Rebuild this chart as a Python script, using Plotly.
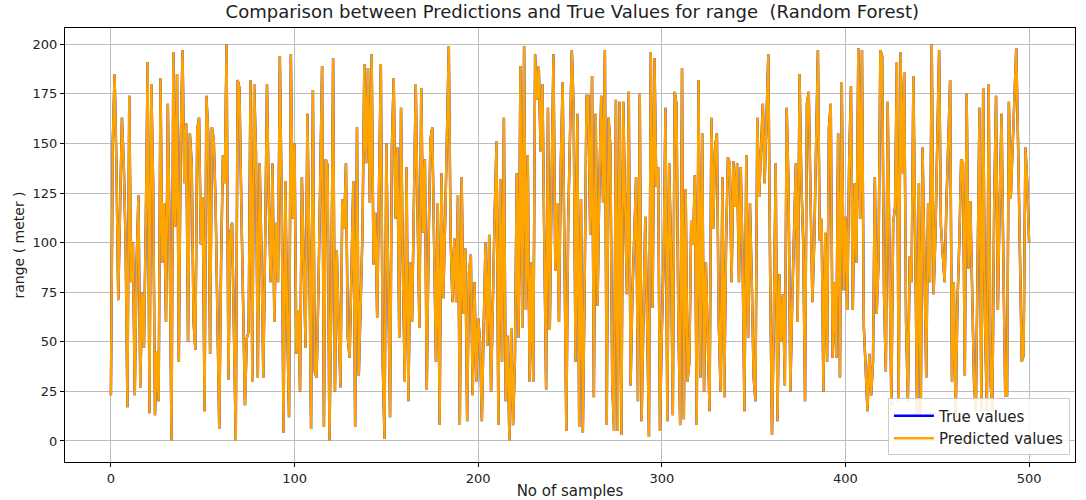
import plotly.graph_objects as go

# values, samples 0..500 (in ~46-sample blocks)
block_01 = [23, 150, 185, 140, 71, 120, 163, 140, 100, 17, 174, 80, 100, 23, 90, 124, 27, 75, 47, 110,
            191, 14, 180, 130, 13, 45, 20, 183, 90, 120, 60, 170, 100, 0, 196, 108, 185, 40, 150, 197,
            130, 160, 50, 155, 140, 60]
block_02 = [46, 157, 163, 99, 123, 15, 174, 155, 44, 158, 152, 120, 68, 6, 90, 144, 130, 200, 31, 105,
            110, 60, 0, 182, 178, 120, 64, 18, 52, 55, 182, 30, 180, 145, 32, 140, 95, 32, 100, 180,
            120, 80, 140, 60, 110, 80]
block_03 = [194, 120, 4, 131, 60, 12, 195, 112, 150, 44, 66, 25, 133, 90, 47, 165, 100, 6, 177, 35,
            32, 76, 140, 189, 7, 142, 139, 0, 70, 193, 25, 96, 60, 27, 122, 107, 140, 52, 42, 90,
            131, 7, 158, 33, 70, 105]
block_04 = [190, 140, 188, 120, 195, 89, 115, 62, 128, 190, 40, 1, 150, 84, 12, 148, 183, 112, 148, 52,
            168, 87, 30, 138, 20, 90, 60, 120, 180, 115, 57, 178, 105, 142, 26, 100, 152, 158, 90, 40,
            120, 8, 135, 72, 110, 160]
block_05 = [199, 102, 70, 102, 70, 124, 8, 133, 64, 97, 10, 85, 94, 23, 80, 30, 62, 50, 10, 58,
            100, 48, 104, 25, 74, 115, 151, 8, 132, 40, 163, 20, 53, 0, 57, 8, 40, 135, 52, 189,
            57, 199, 66, 144, 30, 90]
block_06 = [30, 195, 172, 189, 146, 180, 100, 26, 168, 56, 130, 195, 86, 120, 60, 140, 181, 90, 5, 110,
            150, 197, 167, 40, 165, 7, 122, 4, 80, 174, 174, 104, 184, 22, 165, 68, 130, 174, 120, 197,
            8, 163, 148, 29, 5, 172]
block_07 = [5, 171, 3, 171, 120, 74, 176, 28, 74, 103, 133, 20, 175, 10, 71, 113, 60, 2, 196, 67,
            193, 128, 138, 5, 55, 93, 168, 10, 140, 97, 13, 176, 170, 60, 8, 188, 11, 127, 30, 40,
            111, 99, 134, 8, 182, 32]
block_08 = [155, 25, 90, 48, 15, 163, 107, 148, 155, 60, 25, 133, 22, 100, 143, 140, 80, 141, 118, 140,
            80, 138, 90, 15, 144, 52, 120, 80, 32, 20, 163, 123, 150, 170, 130, 160, 195, 84, 3, 60,
            140, 10, 84, 50, 74, 28]
block_09 = [168, 129, 25, 70, 100, 140, 60, 185, 130, 100, 20, 170, 176, 120, 70, 100, 150, 197, 101, 112,
            25, 105, 40, 158, 170, 42, 80, 42, 155, 32, 181, 76, 113, 66, 140, 179, 66, 130, 90, 198,
            112, 197, 58, 40, 15, 44]
block_10 = [23, 40, 133, 64, 90, 197, 194, 74, 35, 171, 86, 18, 110, 118, 191, 20, 196, 135, 186, 60,
            20, 93, 80, 184, 100, 13, 130, 13, 148, 90, 32, 120, 80, 200, 74, 104, 150, 197, 108, 96,
            80, 120, 150, 182, 30, 80]
block_11 = [12, 70, 100, 142, 140, 33, 175, 87, 121, 80, 30, 15, 90, 168, 15, 178, 60, 15, 180, 30,
            15, 120, 174, 66, 121, 165, 90, 23, 23, 171, 122, 150, 172, 198, 150, 100, 40, 43, 148, 130,
            100]

true_values = (block_01 + block_02 + block_03 + block_04 + block_05 + block_06 +
               block_07 + block_08 + block_09 + block_10 + block_11)
predicted_values = list(true_values)
samples = list(range(len(true_values)))

x_ticks = [0, 100, 200, 300, 400, 500]
y_ticks = [0, 25, 50, 75, 100, 125, 150, 175, 200]

FONT = "DejaVu Sans, Liberation Sans, sans-serif"

fig = go.Figure()
fig.add_trace(go.Scatter(x=samples, y=true_values, mode="lines", name="True values",
                         line=dict(color="#0000ff", width=2.4)))
fig.add_trace(go.Scatter(x=samples, y=predicted_values, mode="lines", name="Predicted values",
                         line=dict(color="#ffa500", width=2.4)))

axis_common = dict(showgrid=True, gridcolor="#bdbdbd", gridwidth=1, showline=True,
                   linecolor="#000000", linewidth=1, mirror=True, ticks="outside",
                   ticklen=4, tickcolor="#000000", zeroline=False, automargin=False,
                   tickfont=dict(family=FONT, size=13, color="#222222"))

fig.update_layout(
    width=1086, height=500,
    margin=dict(l=65, r=11, t=28, b=38),
    paper_bgcolor="white", plot_bgcolor="white",
    font=dict(family=FONT, color="#222222"),
    title=dict(text="Comparison between Predictions and True Values for range  (Random Forest)",
               x=0.527, xanchor="center", y=0.976, yanchor="middle",
               font=dict(family=FONT, size=18, color="#222222")),
    xaxis=dict(range=[-25, 525], tickvals=x_ticks,
               title=dict(text="No of samples", font=dict(family=FONT, size=15), standoff=2),
               **axis_common),
    yaxis=dict(range=[-10.6, 208.2], tickvals=y_ticks,
               title=dict(text="range ( meter )", font=dict(family=FONT, size=14), standoff=4),
               **axis_common),
    legend=dict(x=0.995, y=0.015, xanchor="right", yanchor="bottom",
                bgcolor="rgba(255,255,255,0.85)", bordercolor="#cccccc", borderwidth=1,
                font=dict(family=FONT, size=15, color="#222222"),
                tracegroupgap=0, itemwidth=40),
    showlegend=True,
)

fig.write_html("out.html")
